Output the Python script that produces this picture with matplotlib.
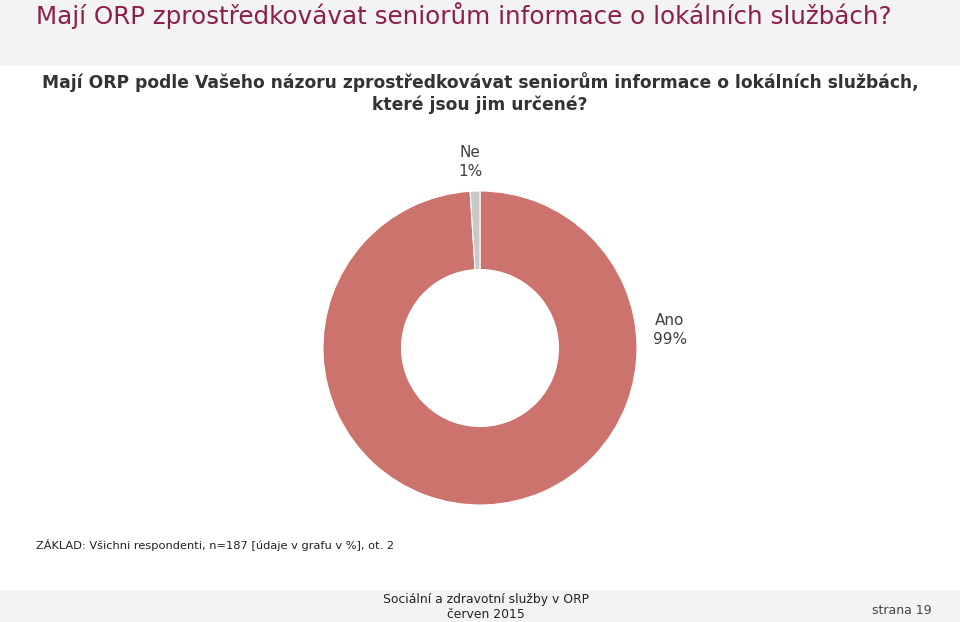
import matplotlib.pyplot as plt
from matplotlib.patches import Rectangle

# data
kategorie = ['Ano', 'Ne']
hodnoty = [99, 1]
barvy = ['#CC736E', '#C8C8C8']

W, H = 960, 622
fig = plt.figure(figsize=(W / 100, H / 100), dpi=100)
fig.patch.set_facecolor('white')

def fx(px):
    return px / W

def fy(py):
    return 1 - py / H

# horni a dolni pruh
fig.patches.append(Rectangle((0, fy(66)), 1, 66 / H, transform=fig.transFigure,
                             facecolor='#F3F3F3', edgecolor='none', zorder=0))
fig.patches.append(Rectangle((0, 0), 1, 32 / H, transform=fig.transFigure,
                             facecolor='#F3F3F3', edgecolor='none', zorder=0))

fig.text(fx(36), fy(16), 'Mají ORP zprostředkovávat seniorům informace o lokálních službách?',
         fontsize=17.7, color='#8C1D4F', va='center', ha='left')

fig.text(0.5, fy(93), 'Mají ORP podle Vašeho názoru zprostředkovávat seniorům informace o lokálních službách,\nkteré jsou jim určené?',
         fontsize=12.3, fontweight='bold', color='#333333', ha='center', va='center',
         linespacing=1.3)

# prstenec
r = 157
ax = fig.add_axes([fx(480 - r), fy(348 + r), 2 * r / W, 2 * r / H])
ax.pie(hodnoty, colors=barvy, startangle=90, counterclock=False, radius=1,
       wedgeprops=dict(width=0.5, edgecolor='white', linewidth=0.8))
ax.set_xlim(-1, 1)
ax.set_ylim(-1, 1)
ax.axis('off')

fig.text(fx(470), fy(162), 'Ne\n1%', fontsize=11, color='#404040', ha='center', va='center',
         linespacing=1.3)
fig.text(fx(670), fy(330), 'Ano\n99%', fontsize=11, color='#404040', ha='center', va='center',
         linespacing=1.3)

fig.text(fx(36), fy(545), 'ZÁKLAD: Všichni respondenti, n=187 [údaje v grafu v %], ot. 2',
         fontsize=8.2, color='#222222', ha='left', va='center')

fig.text(fx(486), fy(607), 'Sociální a zdravotní služby v ORP\nčerven 2015',
         fontsize=8.9, color='#222222', ha='center', va='center', linespacing=1.25)
fig.text(fx(902), fy(610), 'strana 19', fontsize=9, color='#444444', ha='center', va='center')

fig.savefig('out.png', dpi=100)
